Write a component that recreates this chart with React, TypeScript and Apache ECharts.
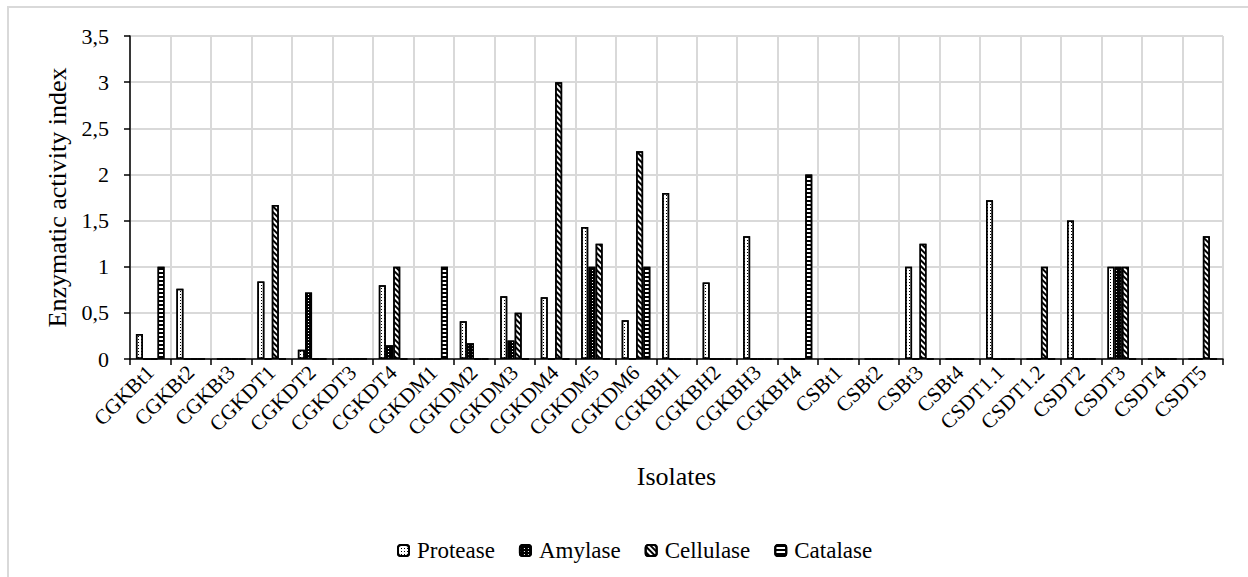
import React, { useEffect, useRef } from "react";
import * as echarts from "echarts";

const categories = [
  "CGKBt1", "CGKBt2", "CGKBt3", "CGKDT1", "CGKDT2", "CGKDT3", "CGKDT4",
  "CGKDM1", "CGKDM2", "CGKDM3", "CGKDM4", "CGKDM5", "CGKDM6", "CGKBH1",
  "CGKBH2", "CGKBH3", "CGKBH4", "CSBt1", "CSBt2", "CSBt3", "CSBt4",
  "CSDT1.1", "CSDT1.2", "CSDT2", "CSDT3", "CSDT4", "CSDT5",
];

const protease = [0.27, 0.76, 0, 0.84, 0.1, 0, 0.8, 0, 0.41, 0.68, 0.67, 1.43, 0.42, 1.8, 0.83, 1.33, 0, 0, 0, 1.0, 0, 1.72, 0, 1.5, 1.0, 0, 0];
const amylase = [0, 0, 0, 0, 0.72, 0, 0.15, 0, 0.17, 0.2, 0, 1.0, 0, 0, 0, 0, 0, 0, 0, 0, 0, 0, 0, 0, 1.0, 0, 0];
const cellulase = [0, 0, 0, 1.67, 0, 0, 1.0, 0, 0, 0.5, 3.0, 1.25, 2.25, 0, 0, 0, 0, 0, 0, 1.25, 0, 0, 1.0, 0, 1.0, 0, 1.33];
const catalase = [1.0, 0, 0, 0, 0, 0, 0, 1.0, 0, 0, 0, 0, 1.0, 0, 0, 0, 2.0, 0, 0, 0, 0, 0, 0, 0, 0, 0, 0];

const seriesNames = ["Protease", "Amylase", "Cellulase", "Catalase"];

const FONT = "Liberation Serif";

export default function App() {
  const ref = useRef<HTMLDivElement>(null);

  useEffect(() => {
    if (!ref.current) return;
    const chart = echarts.init(ref.current, undefined, { renderer: "svg" });

    const border = { borderColor: "#000", borderWidth: 1.5 };
    const decals: any[] = [
      { color: "#fff", decal: { symbol: "rect", symbolSize: 1, color: "#000", dashArrayX: [1, 2], dashArrayY: [1, 2] } },
      { color: "#000", decal: { symbol: "rect", symbolSize: 1, color: "#fff", dashArrayX: [1, 3], dashArrayY: [1, 2] } },
      { color: "#fff", decal: { symbol: "rect", symbolSize: 1, color: "#000", dashArrayX: [1, 0], dashArrayY: [2, 1.5], rotation: Math.PI / 4 } },
      { color: "#fff", decal: { symbol: "rect", symbolSize: 1, color: "#000", dashArrayX: [1, 0], dashArrayY: [2, 1.5] } },
    ];
    const dataSets = [protease, amylase, cellulase, catalase];

    chart.setOption({
      animation: false,
      backgroundColor: "#fff",
      textStyle: { fontFamily: FONT, color: "#000" },
      graphic: [
        {
          type: "rect",
          silent: true,
          z: -10,
          shape: { x: 8, y: 7, width: 1400, height: 800 },
          style: { fill: "none", stroke: "#d9d9d9", lineWidth: 2 },
        },
      ],
      legend: {
        data: seriesNames,
        top: 534,
        left: 392,
        itemWidth: 11,
        itemHeight: 11,
        itemGap: 24,
        textStyle: { fontFamily: FONT, fontSize: 23, color: "#000", padding: [0, 0, 0, 3] },
      },
      grid: { left: 130, top: 36, width: 1093, height: 323, containLabel: false },
      xAxis: {
        type: "category",
        data: categories,
        name: "Isolates",
        nameLocation: "middle",
        nameGap: 104,
        nameTextStyle: { fontFamily: FONT, fontSize: 26, color: "#000" },
        axisLine: { lineStyle: { color: "#000", width: 1.5 } },
        axisTick: { show: true, length: 6, lineStyle: { color: "#000", width: 1.5 } },
        axisLabel: {
          rotate: 45,
          margin: 10,
          interval: 0,
          fontFamily: FONT,
          fontSize: 21,
          color: "#000",
        },
        splitLine: { show: true, lineStyle: { color: "#d9d9d9", width: 2 } },
      },
      yAxis: {
        type: "value",
        min: 0,
        max: 3.5,
        interval: 0.5,
        name: "Enzymatic activity index",
        nameLocation: "middle",
        nameGap: 59,
        nameTextStyle: { fontFamily: FONT, fontSize: 26, color: "#000" },
        axisLine: { show: true, lineStyle: { color: "#000", width: 1.5 } },
        axisTick: { show: true, length: 6, lineStyle: { color: "#000", width: 1.5 } },
        axisLabel: {
          margin: 21,
          fontFamily: FONT,
          fontSize: 22,
          color: "#000",
          formatter: (v: number) => String(v).replace(".", ","),
        },
        splitLine: { show: true, lineStyle: { color: "#d9d9d9", width: 2 } },
      },
      series: seriesNames.map((name, i) => ({
        name,
        type: "bar",
        data: dataSets[i],
        barWidth: 7,
        barGap: "3%",
        itemStyle: { ...border, color: decals[i].color, decal: decals[i].decal },
      })),
    });

    return () => chart.dispose();
  }, []);

  return (
    <div
      ref={ref}
      style={{ position: "absolute", left: 0, top: 0, width: 1248, height: 577 }}
    />
  );
}
